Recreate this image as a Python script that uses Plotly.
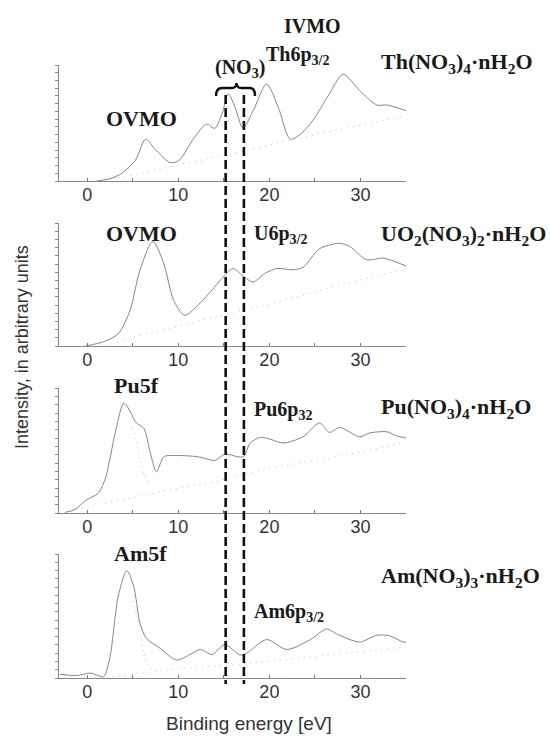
import plotly.graph_objects as go

# ---------------- data (binding energy in eV, intensity in arbitrary units) ----------------
th_E = [1.0, 2.5, 3.8, 5.3, 6.4, 7.5, 8.9, 9.5, 10.2, 11.8, 13.1, 14.0, 14.8, 15.5, 16.3, 17.1,
        18.3, 19.7, 21.0, 22.3, 23.5, 24.8, 26.5, 28.1, 29.9, 31.8, 32.9, 35.0]
th_I = [0.0, 0.02, 0.066, 0.18, 0.36, 0.27, 0.166, 0.158, 0.187, 0.38, 0.49, 0.454, 0.58, 0.75, 0.62,
        0.455, 0.62, 0.836, 0.63, 0.36, 0.41, 0.526, 0.74, 0.92, 0.78, 0.655, 0.655, 0.606]
th_bg_E = [1.5, 5, 10, 15, 20, 25, 30, 35]
th_bg_I = [0.0, 0.05, 0.14, 0.22, 0.31, 0.40, 0.48, 0.56]

u_E = [-0.2, 1.8, 3.4, 4.7, 5.8, 7.2, 8.4, 9.5, 10.7, 12.4, 13.7, 14.8, 16.0, 17.1, 18.2, 19.5,
       20.8, 22.6, 23.7, 25.5, 27.7, 28.8, 30.7, 32.5, 35.0]
u_I = [0.0, 0.035, 0.10, 0.29, 0.62, 0.85, 0.67, 0.37, 0.25, 0.35, 0.455, 0.55, 0.63, 0.57, 0.52, 0.59,
       0.63, 0.62, 0.64, 0.79, 0.835, 0.81, 0.70, 0.715, 0.65]
u_bg_E = [2, 6.5, 10, 15.7, 20, 24.5, 28, 32.9, 35]
u_bg_I = [0.0, 0.10, 0.16, 0.27, 0.34, 0.43, 0.50, 0.59, 0.62]

pu_E = [-2.4, -1.3, -0.2, 1.2, 2.0, 3.1, 4.0, 4.5, 5.4, 6.2, 6.9, 7.6, 8.4, 9.3, 12.2, 14.0, 15.1,
        17.1, 17.9, 19.0, 20.1, 21.5, 23.7, 25.5, 26.6, 27.7, 29.9, 31.0, 32.9, 34.0, 35.0]
pu_I = [0.005, 0.03, 0.10, 0.158, 0.28, 0.65, 0.88, 0.84, 0.72, 0.68, 0.49, 0.33, 0.45, 0.46, 0.45,
        0.42, 0.47, 0.45, 0.56, 0.605, 0.59, 0.56, 0.61, 0.72, 0.645, 0.685, 0.61, 0.64, 0.65, 0.616, 0.60]
pu_bg_E = [-2.5, 1.2, 4.9, 8.6, 14, 20, 27.4, 34.7]
pu_bg_I = [0.0, 0.07, 0.12, 0.18, 0.25, 0.36, 0.45, 0.56]
pu_c_E = [5.0, 5.4, 5.9, 6.3, 6.8]
pu_c_I = [0.68, 0.58, 0.40, 0.30, 0.22]

am_E = [-3.0, -1.1, 0.3, 1.2, 1.8, 2.5, 3.4, 4.35, 5.1, 5.8, 6.5, 8.0, 9.8, 11.3, 12.4, 13.7, 15.1,
        16.8, 17.5, 19.7, 21.9, 24.5, 26.3, 27.4, 29.9, 31.8, 33.2, 34.7, 35.0]
am_I = [0.03, 0.02, 0.04, 0.02, 0.01, 0.17, 0.66, 0.865, 0.74, 0.44, 0.32, 0.24, 0.145, 0.19, 0.23,
        0.19, 0.27, 0.185, 0.2, 0.31, 0.23, 0.31, 0.395, 0.355, 0.29, 0.345, 0.34, 0.29, 0.29]
am_bg_E = [1.5, 4.35, 7.6, 10.6, 15.7, 23, 26.6, 29.9, 34, 35]
am_bg_I = [0.0, 0.025, 0.05, 0.08, 0.105, 0.16, 0.185, 0.21, 0.245, 0.25]
am_c_E = [5.0, 5.4, 5.9, 6.4, 7.0]
am_c_I = [0.62, 0.52, 0.33, 0.15, 0.07]

nitrate_E = [15.2, 17.2]          # dashed markers of the (NO3) levels
x_ticks = [0, 10, 20, 30]
x_range = [-3.1, 35.0]

compounds = ["Th(NO<sub>3</sub>)<sub>4</sub>\u00b7nH<sub>2</sub>O",
             "UO<sub>2</sub>(NO<sub>3</sub>)<sub>2</sub>\u00b7nH<sub>2</sub>O",
             "Pu(NO<sub>3</sub>)<sub>4</sub>\u00b7nH<sub>2</sub>O",
             "Am(NO<sub>3</sub>)<sub>3</sub>\u00b7nH<sub>2</sub>O"]

# ---------------- layout geometry ----------------
W, H = 550, 738
L, R, T, B = 59, 406, 65, 678          # plot area in pixels


def px(x):
    return (x - L) / (R - L)


def py(y):
    return (B - y) / (B - T)


panels = [(65, 181), (223, 346), (388, 513), (554, 678)]   # (top, bottom) pixels

fig = go.Figure()

series = [
    (th_E, th_I, th_bg_E, th_bg_I, None, None),
    (u_E, u_I, u_bg_E, u_bg_I, None, None),
    (pu_E, pu_I, pu_bg_E, pu_bg_I, pu_c_E, pu_c_I),
    (am_E, am_I, am_bg_E, am_bg_I, am_c_E, am_c_I),
]

line_col = "#858585"
dot_col = "#c4c4c4"

for i, (E, I, bE, bI, cE, cI) in enumerate(series):
    ax = "" if i == 0 else str(i + 1)
    fig.add_trace(go.Scatter(x=bE, y=bI, mode="lines", xaxis="x" + ax, yaxis="y" + ax,
                             line=dict(color=dot_col, width=1.1, dash="1px,5px"), showlegend=False,
                             hoverinfo="skip"))
    if cE is not None:
        fig.add_trace(go.Scatter(x=cE, y=cI, mode="lines", xaxis="x" + ax, yaxis="y" + ax,
                                 line=dict(color=dot_col, width=1.1, dash="1px,4px", shape="spline"),
                                 showlegend=False, hoverinfo="skip"))
    fig.add_trace(go.Scatter(x=E, y=I, mode="lines", xaxis="x" + ax, yaxis="y" + ax,
                             line=dict(color=line_col, width=1.0, shape="spline", smoothing=0.8),
                             showlegend=False))

layout = dict(width=W, height=H, paper_bgcolor="white", plot_bgcolor="white",
              margin=dict(l=L, r=W - R, t=T, b=H - B), showlegend=False)

tick_font = dict(family="Liberation Sans, Arial, sans-serif", size=18, color="#333333")
for i, (top, bot) in enumerate(panels):
    ax = "" if i == 0 else str(i + 1)
    layout["xaxis" + ax] = dict(range=x_range, tickvals=x_ticks, ticks="inside", ticklen=3,
                                tickcolor="#777", showline=True, linecolor="#888", linewidth=1,
                                showgrid=False, zeroline=False, tickfont=tick_font,
                                ticklabelstandoff=-3,
                                anchor="y" + ax, domain=[0, 1],
                                minor=dict(dtick=5, ticks="inside", ticklen=3, tickcolor="#777"))
    layout["yaxis" + ax] = dict(range=[0, 1], domain=[py(bot), py(top)], tick0=0, dtick=1 / 15,
                                ticks="outside", ticklen=3, tickcolor="#888", showticklabels=False,
                                showline=True, linecolor="#888", linewidth=1, showgrid=False,
                                zeroline=False, anchor="x" + ax)
fig.update_layout(**layout)

serif_b = dict(family="Liberation Serif, Times New Roman, serif", size=21, color="#1a1a1a")
anns = []


def ann(text, x, y, xanchor="left", size=21, **kw):
    f = dict(serif_b)
    f["size"] = size
    anns.append(dict(text="<b>" + text + "</b>", x=px(x), y=py(y), xref="paper", yref="paper",
                     xanchor=xanchor, yanchor="middle", showarrow=False, font=f, **kw))


ann("IVMO", 312, 26, xanchor="center", size=20)
ann("Th6p<sub>3/2</sub>", 264, 56, size=20)
ann("(NO<sub>3</sub>)", 240, 68, xanchor="center", size=20)
ann("OVMO", 104, 118, size=22)
ann("OVMO", 104, 233, size=22)
ann("U6p<sub>3/2</sub>", 252, 234, size=20)
ann("Pu5f", 112, 385, size=22)
ann("Pu6p<sub>32</sub>", 252, 410, size=20)
ann("Am5f", 112, 553, size=22)
ann("Am6p<sub>3/2</sub>", 252, 612, size=20)

for txt, y in zip(compounds, [63, 235, 408, 577]):
    ann(txt, 379, y, size=22)

anns.append(dict(text="Binding energy [eV]", x=px(249), y=py(724), xref="paper", yref="paper",
                 xanchor="center", yanchor="middle", showarrow=False,
                 font=dict(family="Liberation Sans, Arial, sans-serif", size=19, color="#333")))
anns.append(dict(text="Intensity, in arbitrary units", x=px(22), y=py(347), xref="paper", yref="paper",
                 xanchor="center", yanchor="middle", showarrow=False, textangle=-90,
                 font=dict(family="Liberation Sans, Arial, sans-serif", size=18, color="#333")))
fig.update_layout(annotations=anns)

shapes = []
for e in nitrate_E:
    shapes.append(dict(type="line", xref="x", yref="paper", x0=e, x1=e, y0=py(95), y1=py(684),
                       line=dict(color="#111", width=2.6, dash="9px,4px")))


def P(x, y):
    return f"{px(x):.5f},{py(y):.5f}"


brace = ("M " + P(216, 96) + " Q " + P(216, 88) + " " + P(222, 88) + " L " + P(232, 88) +
         " Q " + P(236, 88) + " " + P(236.5, 83) + " Q " + P(237, 88) + " " + P(241, 88) +
         " L " + P(250, 88) + " Q " + P(255, 88) + " " + P(255, 96))
shapes.append(dict(type="path", xref="paper", yref="paper", path=brace,
                   line=dict(color="#111", width=2.4)))
fig.update_layout(shapes=shapes)

fig.write_html("out.html", config={"displayModeBar": False},
               post_script="document.body.style.margin='0';")
